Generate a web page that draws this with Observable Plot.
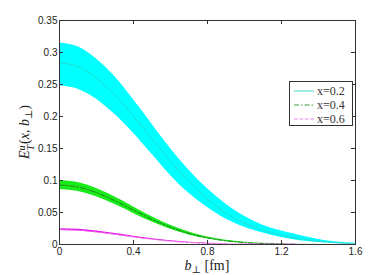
<!DOCTYPE html>
<html>
<head>
<meta charset="utf-8">
<script src="https://cdn.jsdelivr.net/npm/d3@7"></script>
<script src="https://cdn.jsdelivr.net/npm/@observablehq/plot@0.6"></script>
<style>
  html, body { margin: 0; padding: 0; background: #fff; }
  #wrap { position: relative; width: 382px; height: 275px; overflow: hidden; }
  .math { font-family: "Liberation Serif", "DejaVu Serif", serif; color: #222; position: absolute; white-space: nowrap; line-height: 12px; }
  .it { font-style: italic; }
  .sb { font-size: 10px; line-height: 0; position: relative; top: 3px; }
  #legend { position: absolute; left: 289px; top: 81px; width: 62px; height: 43px; border: 1px solid #333; background: #fff; }
  .lrow { position: absolute; left: 3px; height: 14px; display: flex; align-items: center; font-family: "Liberation Serif", serif; font-size: 12px; color: #333; }
  .lrow svg { margin-right: 2px; }
</style>
</head>
<body>
<div id="wrap"></div>
<script>
// ---- data ----
const bPerp = [0, 0.1, 0.2, 0.3, 0.4, 0.5, 0.6, 0.7, 0.8, 0.9, 1.0, 1.1, 1.2, 1.3, 1.4, 1.5, 1.6];

const x02Hi  = [0.315, 0.309, 0.290, 0.262, 0.226, 0.188, 0.150, 0.116, 0.087, 0.063, 0.044, 0.030, 0.021, 0.014, 0.008, 0.004, 0.002];
const x02Mid = [0.284, 0.278, 0.260, 0.2335, 0.2005, 0.165, 0.130, 0.098, 0.0707, 0.049, 0.0335, 0.022, 0.0145, 0.0089, 0.005, 0.0025, 0.001];
const x02Lo  = [0.248, 0.2425, 0.227, 0.203, 0.174, 0.141, 0.108, 0.080, 0.058, 0.040, 0.027, 0.018, 0.011, 0.006, 0.003, 0.0015, 0.0006];

const x04Hi  = [0.100, 0.0967, 0.0875, 0.0741, 0.0587, 0.0435, 0.0301, 0.0195, 0.0118, 0.0067, 0.0036, 0.0018, 0.0008, 0.0003, 0.0001, 0, 0];
const x04Mid = [0.093, 0.0898, 0.081, 0.0682, 0.0536, 0.0393, 0.0269, 0.0172, 0.0102, 0.0057, 0.003, 0.0015, 0.0007, 0.0003, 0.0001, 0, 0];
const x04Lo  = [0.086, 0.083, 0.0745, 0.0624, 0.0486, 0.0352, 0.0238, 0.015, 0.0088, 0.0048, 0.0024, 0.0011, 0.0005, 0.0002, 0.0001, 0, 0];

const x06Hi  = [0.0247, 0.0237, 0.0209, 0.0170, 0.0128, 0.0090, 0.0058, 0.0035, 0.0020, 0.0011, 0.0006, 0.0003, 0.0002, 0.0001, 0, 0, 0];
const x06Mid = [0.0233, 0.0223, 0.0196, 0.0159, 0.0119, 0.0082, 0.0052, 0.0030, 0.0016, 0.0008, 0.0004, 0.0002, 0.0001, 0, 0, 0, 0];
const x06Lo  = [0.0219, 0.0209, 0.0183, 0.0148, 0.0110, 0.0075, 0.0047, 0.0026, 0.0013, 0.0006, 0.0003, 0.0001, 0.0001, 0, 0, 0, 0];

const seriesNames = ["x=0.2", "x=0.4", "x=0.6"];
const xTicks = [0, 0.4, 0.8, 1.2, 1.6];
const yTicks = [0, 0.05, 0.1, 0.15, 0.2, 0.25, 0.3, 0.35];

// ---- styles ----
const bandFill = ["#00ffff", "#19ea19", "#f000f0"];
const lineStroke = ["#2fd3c6", "#1f7f1f", "#e37ae3"];
const lineDash = [null, "5,2,1.5,2", "3.5,2"];
const legendStroke = ["#40e0d0", "#3c9a3c", "#ee82ee"];

function rows(lo, mid, hi) {
  return bPerp.map((b, i) => ({b, lo: lo[i], mid: mid[i], hi: hi[i]}));
}
const series = [rows(x02Lo, x02Mid, x02Hi), rows(x04Lo, x04Mid, x04Hi), rows(x06Lo, x06Mid, x06Hi)];

const W = 382, H = 275, mL = 59, mR = 27, mT = 20, mB = 31;
const fw = W - mL - mR, fh = H - mT - mB, tk = 4;
const fmt = d => String(+d.toFixed(2));

const marks = [];
series.forEach((data, k) => {
  marks.push(Plot.areaY(data, {x: "b", y1: "lo", y2: "hi", fill: bandFill[k], curve: "monotone-x"}));
  marks.push(Plot.line(data, {x: "b", y: "mid", stroke: lineStroke[k], strokeWidth: k === 0 ? 0.8 : 1, strokeDasharray: lineDash[k], curve: "monotone-x"}));
});
marks.push(
  Plot.frame({stroke: "#333", strokeWidth: 1}),
  Plot.tickX(xTicks, {x: d => d, insetTop: fh - tk, stroke: "#333"}),
  Plot.tickX(xTicks, {x: d => d, insetBottom: fh - tk, stroke: "#333"}),
  Plot.tickY(yTicks, {y: d => d, insetRight: fw - tk, stroke: "#333"}),
  Plot.tickY(yTicks, {y: d => d, insetLeft: fw - tk, stroke: "#333"}),
  Plot.axisX({ticks: xTicks, tickSize: 0, tickPadding: 3, tickFormat: fmt, label: null, fill: "#222"}),
  Plot.axisY({ticks: yTicks, tickSize: 0, tickPadding: 2, tickFormat: fmt, label: null, fill: "#222"})
);

const chart = Plot.plot({
  width: W, height: H,
  marginLeft: mL, marginRight: mR, marginTop: mT, marginBottom: mB,
  style: {fontFamily: "'Liberation Sans', Arial, sans-serif", fontSize: "10px", background: "#fff", overflow: "visible"},
  x: {domain: [0, 1.6]},
  y: {domain: [0, 0.35]},
  marks
});

const wrap = document.getElementById("wrap");
wrap.appendChild(chart);

// axis labels (math-style text)
const yl = document.createElement("div");
yl.className = "math";
yl.style.cssText = "left:26px;top:132px;font-size:14px;transform:translate(-50%,-50%) rotate(-90deg);";
yl.innerHTML = '<span class="it">E</span><span style="display:inline-block;vertical-align:middle;line-height:9px;font-size:10px;font-style:italic;text-align:left;margin-right:1px;"><span style="display:block">u</span><span style="display:block">T</span></span>(<span class="it">x</span>, <span class="it">b</span><span class="sb">⊥</span>)';
wrap.appendChild(yl);

const xl = document.createElement("div");
xl.className = "math";
xl.style.cssText = "left:207px;top:266px;font-size:14px;transform:translate(-50%,-50%);";
xl.innerHTML = '<span class="it">b</span><span class="sb">⊥</span> [fm]';
wrap.appendChild(xl);

// legend
const leg = document.createElement("div");
leg.id = "legend";
seriesNames.forEach((name, k) => {
  const r = document.createElement("div");
  r.className = "lrow";
  r.style.top = (2 + k * 14) + "px";
  r.innerHTML = `<svg width="22" height="6"><line x1="1" y1="3" x2="21" y2="3" stroke="${legendStroke[k]}" stroke-width="1" ${lineDash[k] ? `stroke-dasharray="${lineDash[k]}"` : ""}/></svg><span>${name}</span>`;
  leg.appendChild(r);
});
wrap.appendChild(leg);
</script>
</body>
</html>
